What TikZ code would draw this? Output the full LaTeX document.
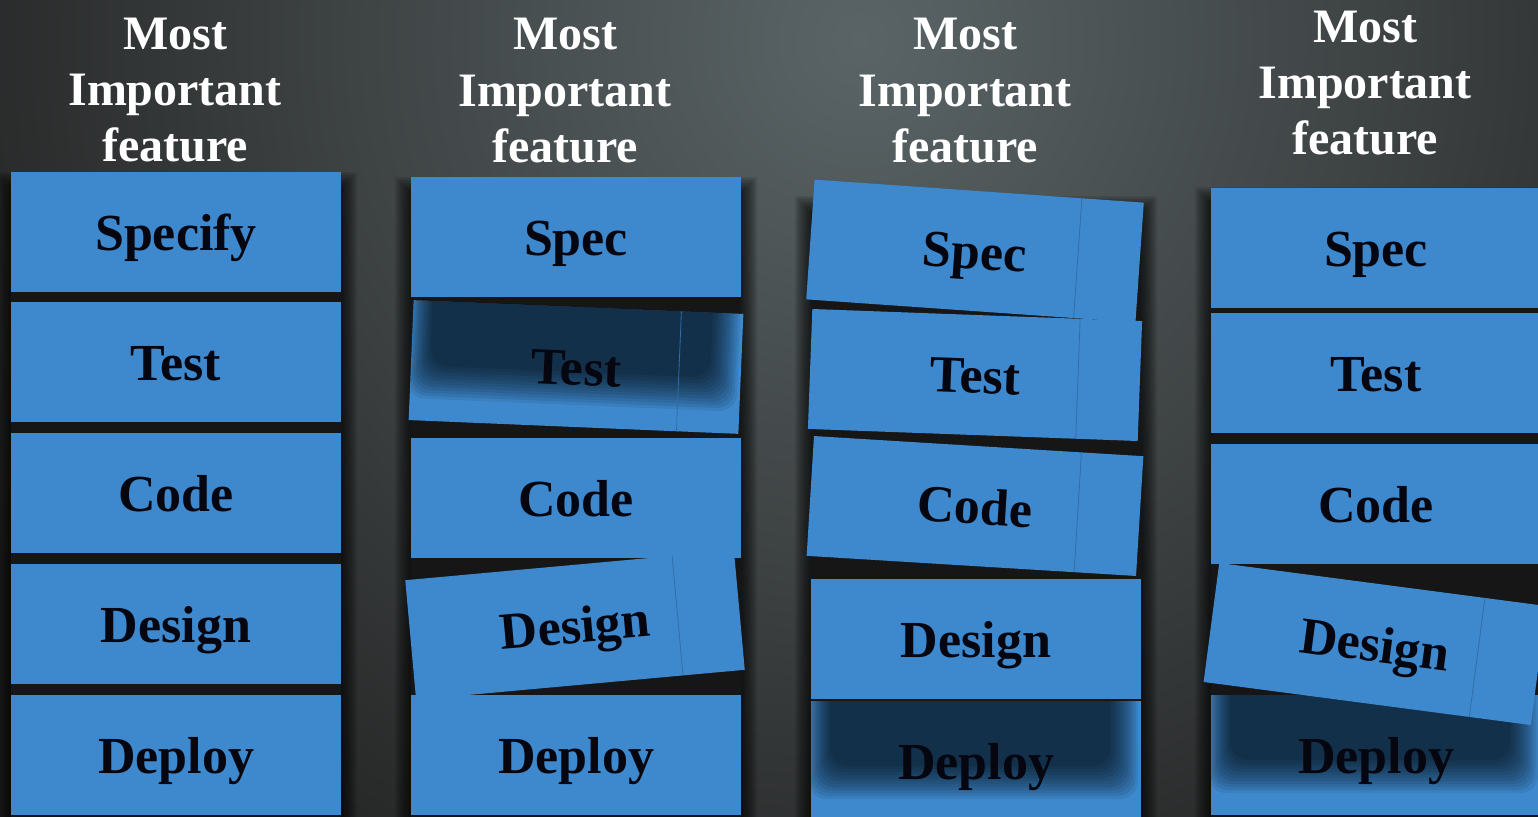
\documentclass[tikz,border=0pt]{standalone}
\usepackage{fontspec}
\setmainfont{Liberation Serif}
\definecolor{noteblue}{HTML}{3E89CE}
\definecolor{notetext}{HTML}{05060F}
\definecolor{foldcol}{HTML}{2F6EA8}
\definecolor{bgtop}{HTML}{5A6466}
\definecolor{bgdark}{HTML}{232323}
\definecolor{shadowcore}{HTML}{161616}
\tikzset{
  notebox/.style={rectangle, minimum width=330pt, minimum height=120pt, fill=noteblue, inner sep=0pt, draw=none},
  notelabel/.style={font=\fontsize{52}{60}\selectfont\bfseries, text=notetext, text height=36pt, text depth=0pt, inner sep=0pt},
  headline/.style={font=\fontsize{48}{56}\selectfont\bfseries, text=white, inner sep=0pt, anchor=base},
  foldline/.style={draw=foldcol, line width=0.8pt},
}
\newcommand\stick[6]{%
  \begin{scope}[shift={(#2,#3)}, rotate=#4]
    \node[notebox, transform shape] (#1) at (0,0) {};
    #6
    \node[notelabel, transform shape] (#1-t) at (0,0) {#5};
  \end{scope}}
\newcommand\darkover{%
  \begin{scope}
    \clip (-165,-60) rectangle (165,60);
    \foreach \k in {0,...,11} {
      \fill[black, opacity=0.08, rounded corners=18pt] (-168+2*\k,-80) rectangle (162-2.5*\k,38-3*\k);
    }
  \end{scope}}
\newcommand\fold{\draw[foldline] (103,-60) -- (103,60);}
\newcommand\colshadow[4]{%
  \foreach \k in {1,...,10} {
    \fill[black, opacity=0.09, rounded corners=2pt] (#1-\k*1.6,#2-\k*1.6) rectangle (#3+\k*1.6,#4+\k*1.6);
  }
  \fill[shadowcore] (#1,#2) rectangle (#3,#4);}
\newcommand\header[3]{% name, cx, first baseline
  \node[headline] (#1-a) at (#2,#3) {Most};
  \node[headline] (#1-b) at (#2,#3+56) {Important};
  \node[headline] (#1-c) at (#2,#3+112) {feature};}
\begin{document}
\begin{tikzpicture}[x=1pt,y=-1pt]
\useasboundingbox (0,0) rectangle (1538,816);
\begin{scope}
  \clip (-6,-6) rectangle (1544,822);
  \fill[bgdark] (-6,-6) rectangle (1544,822);
  \shade[inner color=bgtop, outer color=bgdark] (860,40) circle (1000);
  % column shadows
  \colshadow{11}{188}{341}{830}
  \colshadow{411}{193}{741}{830}
  \colshadow{811}{212}{1141}{830}
  \colshadow{1211}{203}{1550}{830}
  % headers
  \header{h1}{175}{49}
  \header{h2}{565}{50}
  \header{h3}{965}{50}
  \header{h4}{1365}{42}
  % column 1
  \stick{a1}{176}{232}{0}{Specify}{}
  \stick{a2}{176}{362}{0}{Test}{}
  \stick{a3}{176}{493}{0}{Code}{}
  \stick{a4}{176}{624}{0}{Design}{}
  \stick{a5}{176}{755}{0}{Deploy}{}
  % column 2
  \stick{b1}{576}{237}{0}{Spec}{}
  \stick{b2}{576}{367}{-2.4}{Test}{\darkover\fold}
  \stick{b3}{576}{498}{0}{Code}{}
  \stick{b5}{576}{755}{0}{Deploy}{}
  \stick{b4}{575}{625}{5.2}{Design}{\fold}
  % column 3
  \stick{c2}{975}{375}{-2.1}{Test}{\fold}
  \stick{c1}{975}{251}{-4}{Spec}{\fold}
  \stick{c3}{975}{506}{-3.5}{Code}{\fold}
  \stick{c4}{976}{639}{0}{Design}{}
  \stick{c5}{976}{761}{0}{Deploy}{\darkover}
  % column 4
  \stick{d1}{1376}{248}{0}{Spec}{}
  \stick{d2}{1376}{373}{0}{Test}{}
  \stick{d3}{1376}{504}{0}{Code}{}
  \stick{d5}{1376}{755}{0}{Deploy}{\darkover}
  \stick{d4}{1375}{644}{-7.5}{Design}{\fold}
\end{scope}
\end{tikzpicture}
\end{document}
